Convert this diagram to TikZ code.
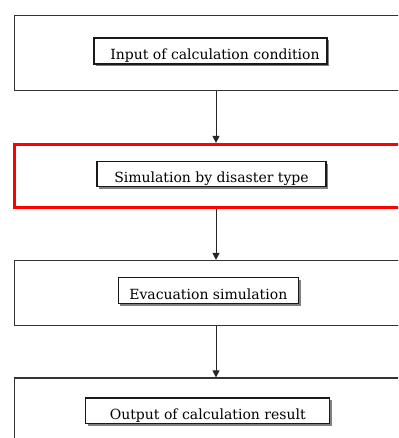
\documentclass[tikz,border=0pt]{standalone}
\usepackage{fontspec}
\setmainfont{DejaVu Serif}
\usetikzlibrary{arrows.meta,shadows}
\newcommand{\lowtext}[1]{\raisebox{-8.7pt}[0pt][0pt]{#1}}
\begin{document}
\begin{tikzpicture}[x=1pt,y=-1pt,
  outerbox/.style={draw=black!80,line width=1.1pt,rectangle,inner sep=0pt,minimum width=405.5pt},
  redbox/.style={draw=red,line width=3.2pt,rectangle,inner sep=0pt,minimum width=405.5pt},
  stepbox/.style={draw=black!90,line width=1.1pt,fill=white,rectangle,inner sep=0pt,minimum height=26pt,
    font=\fontsize{14}{16}\selectfont,
    drop shadow={shadow xshift=2.2pt,shadow yshift=-2.2pt,fill=black!50,opacity=1}},
  arr/.style={draw=black!85,line width=1pt,-{Triangle[width=7pt,length=7pt]}}]
\useasboundingbox (0,0) rectangle (398,438);
\clip (0,0) rectangle (398,438);
\node[outerbox,minimum height=75pt] (b1) at (217.25,53) {};
\node[redbox,minimum height=63pt] (b2) at (217.25,176) {};
\node[outerbox,minimum height=65pt] (b3) at (217.25,293) {};
\node[outerbox,minimum height=82pt] (b4) at (217.25,419) {};
\node[stepbox,minimum width=233pt] (s1) at (210.5,51) {\lowtext{\hspace*{9pt}Input of calculation condition}};
\node[stepbox,minimum width=229pt,minimum height=25.5pt] (s2) at (211.5,174.2) {\lowtext{Simulation by disaster type}};
\node[stepbox,minimum width=180.5pt] (s3) at (208.3,290.3) {\lowtext{Evacuation simulation}};
\node[stepbox,minimum width=244pt,minimum height=25.5pt] (s4) at (207.8,410.7) {\lowtext{Output of calculation result}};
\coordinate (ax) at (216,0);
\draw[arr] (b1.south -| ax) -- (b2.north -| ax);
\draw[arr] (b2.south -| ax) -- (b3.north -| ax);
\draw[arr] (b3.south -| ax) -- (b4.north -| ax);
\end{tikzpicture}
\end{document}
